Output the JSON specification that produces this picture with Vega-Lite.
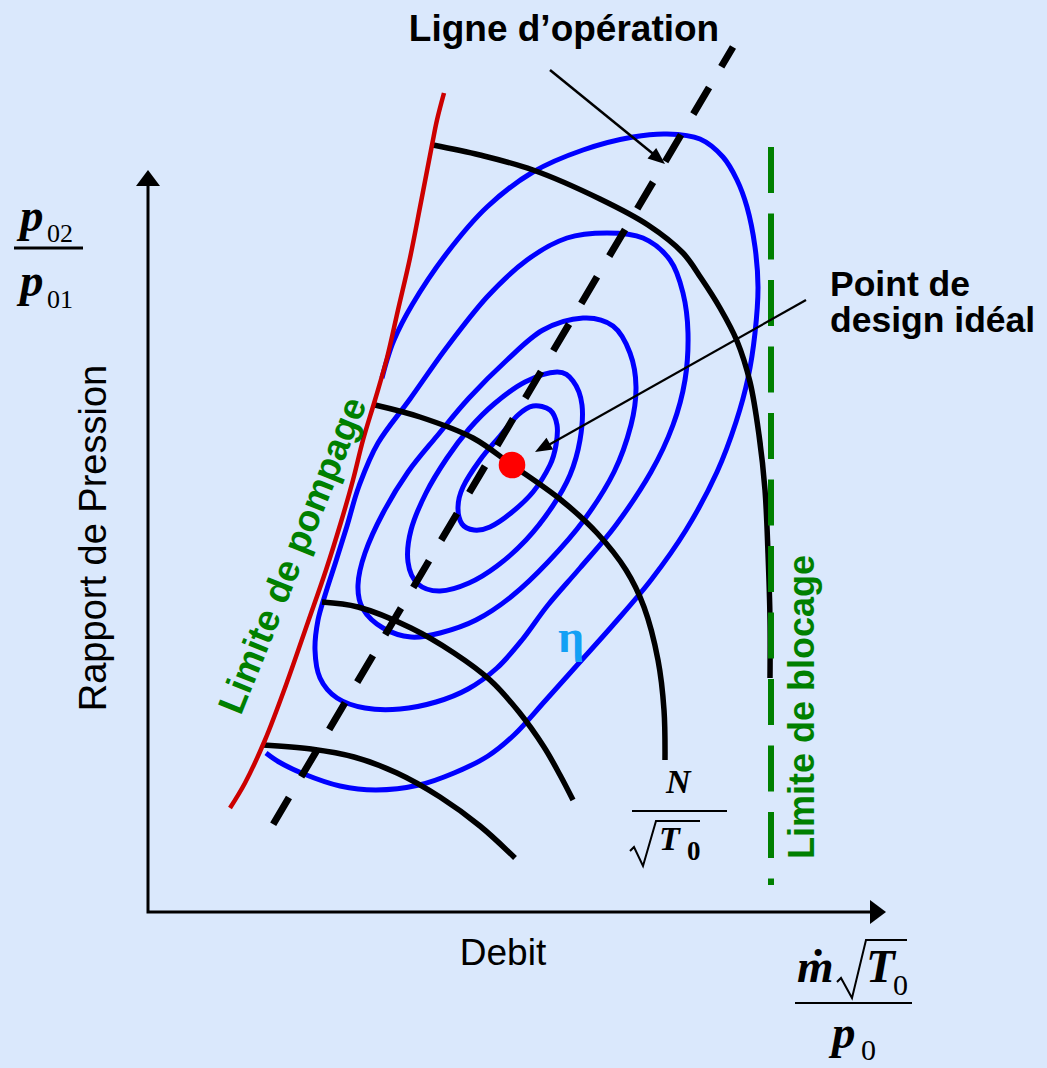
{
  "$schema": "https://vega.github.io/schema/vega-lite/v6.json",
  "width": 1047,
  "height": 1068,
  "autosize": {"type": "fit", "contains": "padding"},
  "padding": 0,
  "background": "#DAE8FC",
  "config": {"view": {"stroke": null}},
  "datasets": {
    "courbes": [
      {"c":"eta1","i":1,"x":533,"y":406},{"c":"eta1","i":2,"x":550,"y":410},{"c":"eta1","i":3,"x":557,"y":425},{"c":"eta1","i":4,"x":556,"y":445},{"c":"eta1","i":5,"x":550,"y":465},{"c":"eta1","i":6,"x":533,"y":492},{"c":"eta1","i":7,"x":511,"y":513},{"c":"eta1","i":8,"x":490,"y":527},{"c":"eta1","i":9,"x":474,"y":530},{"c":"eta1","i":10,"x":462,"y":524},{"c":"eta1","i":11,"x":458,"y":507},{"c":"eta1","i":12,"x":463,"y":487},{"c":"eta1","i":13,"x":480,"y":460},{"c":"eta1","i":14,"x":500,"y":436},{"c":"eta1","i":15,"x":518,"y":415},

      {"c":"eta2","i":1,"x":557,"y":372},{"c":"eta2","i":2,"x":573,"y":381},{"c":"eta2","i":3,"x":582,"y":405},{"c":"eta2","i":4,"x":580,"y":440},{"c":"eta2","i":5,"x":570,"y":475},{"c":"eta2","i":6,"x":552,"y":507},{"c":"eta2","i":7,"x":526,"y":540},{"c":"eta2","i":8,"x":497,"y":566},{"c":"eta2","i":9,"x":469,"y":583},{"c":"eta2","i":10,"x":440,"y":591},{"c":"eta2","i":11,"x":418,"y":584},{"c":"eta2","i":12,"x":408,"y":562},{"c":"eta2","i":13,"x":411,"y":530},{"c":"eta2","i":14,"x":426,"y":493},{"c":"eta2","i":15,"x":447,"y":458},{"c":"eta2","i":16,"x":469,"y":429},{"c":"eta2","i":17,"x":494,"y":404},{"c":"eta2","i":18,"x":525,"y":382},

      {"c":"eta3","i":1,"x":583,"y":318},{"c":"eta3","i":2,"x":613,"y":326},{"c":"eta3","i":3,"x":630,"y":353},{"c":"eta3","i":4,"x":636,"y":387},{"c":"eta3","i":5,"x":631,"y":425},{"c":"eta3","i":6,"x":614,"y":472},{"c":"eta3","i":7,"x":584,"y":520},{"c":"eta3","i":8,"x":548,"y":562},{"c":"eta3","i":9,"x":512,"y":596},{"c":"eta3","i":10,"x":476,"y":620},{"c":"eta3","i":11,"x":440,"y":633},{"c":"eta3","i":12,"x":411,"y":637},{"c":"eta3","i":13,"x":383,"y":628},{"c":"eta3","i":14,"x":363,"y":609},{"c":"eta3","i":15,"x":358,"y":585},{"c":"eta3","i":16,"x":365,"y":553},{"c":"eta3","i":17,"x":383,"y":513},{"c":"eta3","i":18,"x":408,"y":472},{"c":"eta3","i":19,"x":437,"y":436},{"c":"eta3","i":20,"x":469,"y":398},{"c":"eta3","i":21,"x":507,"y":360},{"c":"eta3","i":22,"x":543,"y":330},

      {"c":"eta4","i":1,"x":607,"y":233},{"c":"eta4","i":2,"x":643,"y":238},{"c":"eta4","i":3,"x":670,"y":260},{"c":"eta4","i":4,"x":683,"y":293},{"c":"eta4","i":5,"x":688,"y":333},{"c":"eta4","i":6,"x":685,"y":380},{"c":"eta4","i":7,"x":673,"y":425},{"c":"eta4","i":8,"x":651,"y":472},{"c":"eta4","i":9,"x":616,"y":525},{"c":"eta4","i":10,"x":580,"y":568},{"c":"eta4","i":11,"x":548,"y":605},{"c":"eta4","i":12,"x":522,"y":640},{"c":"eta4","i":13,"x":497,"y":668},{"c":"eta4","i":14,"x":468,"y":689},{"c":"eta4","i":15,"x":436,"y":702},{"c":"eta4","i":16,"x":400,"y":709},{"c":"eta4","i":17,"x":365,"y":708},{"c":"eta4","i":18,"x":337,"y":698},{"c":"eta4","i":19,"x":320,"y":678},{"c":"eta4","i":20,"x":315,"y":650},{"c":"eta4","i":21,"x":318,"y":620},{"c":"eta4","i":22,"x":326,"y":592},{"c":"eta4","i":23,"x":336,"y":561},{"c":"eta4","i":24,"x":347,"y":526},{"c":"eta4","i":25,"x":359,"y":486},{"c":"eta4","i":26,"x":378,"y":443},{"c":"eta4","i":27,"x":410,"y":399},{"c":"eta4","i":28,"x":447,"y":347},{"c":"eta4","i":29,"x":487,"y":297},{"c":"eta4","i":30,"x":527,"y":260},{"c":"eta4","i":31,"x":567,"y":238},

      {"c":"eta5","i":1,"x":266,"y":753},{"c":"eta5","i":2,"x":279,"y":762},{"c":"eta5","i":3,"x":304,"y":774},{"c":"eta5","i":4,"x":340,"y":786},{"c":"eta5","i":5,"x":376,"y":790},{"c":"eta5","i":6,"x":419,"y":785},{"c":"eta5","i":7,"x":454,"y":773},{"c":"eta5","i":8,"x":488,"y":756},{"c":"eta5","i":9,"x":514,"y":735},{"c":"eta5","i":10,"x":545,"y":701},{"c":"eta5","i":11,"x":579,"y":663},{"c":"eta5","i":12,"x":613,"y":625},{"c":"eta5","i":13,"x":651,"y":580},{"c":"eta5","i":14,"x":686,"y":530},{"c":"eta5","i":15,"x":717,"y":472},{"c":"eta5","i":16,"x":736,"y":422},{"c":"eta5","i":17,"x":748,"y":378},{"c":"eta5","i":18,"x":755,"y":333},{"c":"eta5","i":19,"x":758,"y":287},{"c":"eta5","i":20,"x":755,"y":247},{"c":"eta5","i":21,"x":747,"y":207},{"c":"eta5","i":22,"x":737,"y":180},{"c":"eta5","i":23,"x":723,"y":157},{"c":"eta5","i":24,"x":700,"y":139},{"c":"eta5","i":25,"x":667,"y":134},{"c":"eta5","i":26,"x":633,"y":137},{"c":"eta5","i":27,"x":583,"y":150},{"c":"eta5","i":28,"x":533,"y":172},{"c":"eta5","i":29,"x":487,"y":207},{"c":"eta5","i":30,"x":447,"y":253},{"c":"eta5","i":31,"x":412,"y":305},{"c":"eta5","i":32,"x":394,"y":340},{"c":"eta5","i":33,"x":387,"y":360},{"c":"eta5","i":34,"x":382,"y":378},

      {"c":"N1","i":1,"x":433,"y":145},{"c":"N1","i":2,"x":480,"y":155},{"c":"N1","i":3,"x":533,"y":170},{"c":"N1","i":4,"x":600,"y":199},{"c":"N1","i":5,"x":648,"y":225},{"c":"N1","i":6,"x":683,"y":253},{"c":"N1","i":7,"x":701,"y":278},{"c":"N1","i":8,"x":720,"y":308},{"c":"N1","i":9,"x":737,"y":341},{"c":"N1","i":10,"x":750,"y":382},{"c":"N1","i":11,"x":759,"y":435},{"c":"N1","i":12,"x":765,"y":490},{"c":"N1","i":13,"x":768,"y":553},{"c":"N1","i":14,"x":770,"y":620},{"c":"N1","i":15,"x":770,"y":678},

      {"c":"N2","i":1,"x":375,"y":405},{"c":"N2","i":2,"x":420,"y":417},{"c":"N2","i":3,"x":473,"y":438},{"c":"N2","i":4,"x":512,"y":465},{"c":"N2","i":5,"x":561,"y":500},{"c":"N2","i":6,"x":597,"y":533},{"c":"N2","i":7,"x":626,"y":570},{"c":"N2","i":8,"x":644,"y":607},{"c":"N2","i":9,"x":658,"y":660},{"c":"N2","i":10,"x":664,"y":710},{"c":"N2","i":11,"x":665,"y":760},

      {"c":"N3","i":1,"x":322,"y":602},{"c":"N3","i":2,"x":358,"y":607},{"c":"N3","i":3,"x":411,"y":628},{"c":"N3","i":4,"x":454,"y":653},{"c":"N3","i":5,"x":490,"y":680},{"c":"N3","i":6,"x":519,"y":712},{"c":"N3","i":7,"x":544,"y":747},{"c":"N3","i":8,"x":560,"y":775},{"c":"N3","i":9,"x":573,"y":800},

      {"c":"N4","i":1,"x":263,"y":745},{"c":"N4","i":2,"x":311,"y":749},{"c":"N4","i":3,"x":354,"y":757},{"c":"N4","i":4,"x":397,"y":773},{"c":"N4","i":5,"x":440,"y":797},{"c":"N4","i":6,"x":480,"y":826},{"c":"N4","i":7,"x":515,"y":858},

      {"c":"pompage","i":1,"x":444,"y":93},{"c":"pompage","i":2,"x":437,"y":120},{"c":"pompage","i":3,"x":432,"y":145},{"c":"pompage","i":4,"x":421,"y":202},{"c":"pompage","i":5,"x":410,"y":258},{"c":"pompage","i":6,"x":398,"y":310},{"c":"pompage","i":7,"x":387,"y":358},{"c":"pompage","i":8,"x":375,"y":400},{"c":"pompage","i":9,"x":363,"y":440},{"c":"pompage","i":10,"x":353,"y":480},{"c":"pompage","i":11,"x":341,"y":522},{"c":"pompage","i":12,"x":326,"y":570},{"c":"pompage","i":13,"x":308,"y":622},{"c":"pompage","i":14,"x":286,"y":685},{"c":"pompage","i":15,"x":265,"y":740},{"c":"pompage","i":16,"x":245,"y":783},{"c":"pompage","i":17,"x":230,"y":808},

      {"c":"blocage","i":1,"x":771,"y":147},{"c":"blocage","i":2,"x":771,"y":885},

      {"c":"operation","i":1,"x":733,"y":47},{"c":"operation","i":2,"x":265,"y":838},

      {"c":"axes","i":1,"x":148,"y":186},{"c":"axes","i":2,"x":148,"y":912},{"c":"axes","i":3,"x":870,"y":912},

      {"c":"fleche1","i":1,"x":550,"y":70},{"c":"fleche1","i":2,"x":657,"y":157},
      {"c":"fleche2","i":1,"x":806,"y":300},{"c":"fleche2","i":2,"x":545,"y":447},

      {"c":"rad1","i":1,"x":630,"y":851},{"c":"rad1","i":2,"x":634,"y":847},{"c":"rad1","i":3,"x":643,"y":866},{"c":"rad1","i":4,"x":656,"y":821},{"c":"rad1","i":5,"x":700,"y":821},
      {"c":"rad2","i":1,"x":837,"y":982},{"c":"rad2","i":2,"x":841,"y":978},{"c":"rad2","i":3,"x":852,"y":998},{"c":"rad2","i":4,"x":866,"y":940},{"c":"rad2","i":5,"x":907,"y":940}
    ]
  },
  "encoding": {
    "x": {"field": "x", "type": "quantitative", "scale": {"domain": [0, 1047], "nice": false, "zero": false}, "axis": null},
    "y": {"field": "y", "type": "quantitative", "scale": {"domain": [0, 1068], "nice": false, "zero": false, "reverse": true}, "axis": null}
  },
  "layer": [
    {
      "data": {"name": "courbes"},
      "transform": [{"filter": {"field": "c", "oneOf": ["eta1", "eta2", "eta3", "eta4"]}}],
      "mark": {"type": "line", "interpolate": "cardinal-closed", "stroke": "#0000FF", "strokeWidth": 5},
      "encoding": {"detail": {"field": "c"}, "order": {"field": "i", "type": "quantitative"}}
    },
    {
      "data": {"name": "courbes"},
      "transform": [{"filter": {"field": "c", "equal": "eta5"}}],
      "mark": {"type": "line", "interpolate": "catmull-rom", "stroke": "#0000FF", "strokeWidth": 5},
      "encoding": {"order": {"field": "i", "type": "quantitative"}}
    },
    {
      "data": {"name": "courbes"},
      "transform": [{"filter": {"field": "c", "oneOf": ["N1", "N2", "N3", "N4"]}}],
      "mark": {"type": "line", "interpolate": "catmull-rom", "stroke": "#000000", "strokeWidth": 5.5},
      "encoding": {"detail": {"field": "c"}, "order": {"field": "i", "type": "quantitative"}}
    },
    {
      "data": {"name": "courbes"},
      "transform": [{"filter": {"field": "c", "equal": "pompage"}}],
      "mark": {"type": "line", "interpolate": "catmull-rom", "stroke": "#CC0000", "strokeWidth": 4.5},
      "encoding": {"order": {"field": "i", "type": "quantitative"}}
    },
    {
      "data": {"name": "courbes"},
      "transform": [{"filter": {"field": "c", "equal": "operation"}}],
      "mark": {"type": "line", "stroke": "#000000", "strokeWidth": 7, "strokeDash": [31, 24], "strokeDashOffset": 8},
      "encoding": {"order": {"field": "i", "type": "quantitative"}}
    },
    {
      "data": {"name": "courbes"},
      "transform": [{"filter": {"field": "c", "equal": "blocage"}}],
      "mark": {"type": "line", "stroke": "#008000", "strokeWidth": 6, "strokeDash": [46, 20.5]},
      "encoding": {"order": {"field": "i", "type": "quantitative"}}
    },
    {
      "data": {"name": "courbes"},
      "transform": [{"filter": {"field": "c", "equal": "axes"}}],
      "mark": {"type": "line", "stroke": "#000000", "strokeWidth": 3, "strokeJoin": "miter"},
      "encoding": {"order": {"field": "i", "type": "quantitative"}}
    },
    {
      "data": {"name": "courbes"},
      "transform": [{"filter": {"field": "c", "equal": "fleche1"}}],
      "mark": {"type": "line", "stroke": "#000000", "strokeWidth": 2.5},
      "encoding": {"order": {"field": "i", "type": "quantitative"}}
    },
    {
      "data": {"name": "courbes"},
      "transform": [{"filter": {"field": "c", "equal": "fleche2"}}],
      "mark": {"type": "line", "stroke": "#000000", "strokeWidth": 2.2},
      "encoding": {"order": {"field": "i", "type": "quantitative"}}
    },
    {
      "data": {"name": "courbes"},
      "transform": [{"filter": {"field": "c", "oneOf": ["rad1", "rad2"]}}],
      "mark": {"type": "line", "stroke": "#000000", "strokeWidth": 2, "strokeJoin": "miter"},
      "encoding": {"detail": {"field": "c"}, "order": {"field": "i", "type": "quantitative"}}
    },
    {
      "data": {"values": [{"x": 148, "y": 170}]},
      "mark": {"type": "point", "shape": "M0,0L0.75,1L-0.75,1Z", "size": 1024, "angle": 0, "filled": true, "color": "#000000", "opacity": 1, "strokeWidth": 0}
    },
    {
      "data": {"values": [{"x": 886, "y": 912}]},
      "mark": {"type": "point", "shape": "M0,0L0.75,1L-0.75,1Z", "size": 1024, "angle": 90, "filled": true, "color": "#000000", "opacity": 1, "strokeWidth": 0}
    },
    {
      "data": {"values": [{"x": 665, "y": 164}]},
      "mark": {"type": "point", "shape": "M0,0L0.4,1L-0.4,1Z", "size": 1156, "angle": 129.4, "filled": true, "color": "#000000", "opacity": 1, "strokeWidth": 0}
    },
    {
      "data": {"values": [{"x": 535, "y": 452}]},
      "mark": {"type": "point", "shape": "M0,0L0.4,1L-0.4,1Z", "size": 1156, "angle": 240.6, "filled": true, "color": "#000000", "opacity": 1, "strokeWidth": 0}
    },
    {
      "data": {"values": [{"x": 512, "y": 465}]},
      "mark": {"type": "point", "shape": "circle", "size": 707, "filled": true, "color": "#FF0000", "opacity": 1, "strokeWidth": 0}
    },
    {
      "data": {"values": [{"x": 14, "x2": 83, "y": 248}]},
      "mark": {"type": "rule", "stroke": "#000000", "strokeWidth": 3},
      "encoding": {"x2": {"field": "x2"}}
    },
    {
      "data": {"values": [{"x": 632, "x2": 727, "y": 811}, {"x": 795, "x2": 912, "y": 1003}]},
      "mark": {"type": "rule", "stroke": "#000000", "strokeWidth": 2.2},
      "encoding": {"x2": {"field": "x2"}}
    },
    {
      "data": {"values": [{"t": "Ligne d’opération", "x": 564, "y": 41}]},
      "mark": {"type": "text", "font": "Liberation Sans", "fontWeight": "bold", "fontSize": 37, "align": "center", "baseline": "alphabetic", "color": "#000000"},
      "encoding": {"text": {"field": "t"}}
    },
    {
      "data": {"values": [{"t": ["Point de", "design idéal"], "x": 830, "y": 296}]},
      "mark": {"type": "text", "font": "Liberation Sans", "fontWeight": "bold", "fontSize": 35.5, "lineHeight": 36, "align": "left", "baseline": "alphabetic", "color": "#000000"},
      "encoding": {"text": {"field": "t"}}
    },
    {
      "data": {"values": [{"t": "Debit", "x": 503, "y": 965}]},
      "mark": {"type": "text", "font": "Liberation Sans", "fontSize": 37, "align": "center", "baseline": "alphabetic", "color": "#000000"},
      "encoding": {"text": {"field": "t"}}
    },
    {
      "data": {"values": [{"t": "Rapport de Pression", "x": 106, "y": 538}]},
      "mark": {"type": "text", "font": "Liberation Sans", "fontSize": 38, "angle": 270, "align": "center", "baseline": "alphabetic", "color": "#000000"},
      "encoding": {"text": {"field": "t"}}
    },
    {
      "data": {"values": [{"t": "Limite de pompage", "x": 304, "y": 560}]},
      "mark": {"type": "text", "font": "Liberation Sans", "fontWeight": "bold", "fontSize": 37, "angle": 292, "align": "center", "baseline": "alphabetic", "color": "#008000"},
      "encoding": {"text": {"field": "t"}}
    },
    {
      "data": {"values": [{"t": "Limite de blocage", "x": 814, "y": 707}]},
      "mark": {"type": "text", "font": "Liberation Sans", "fontWeight": "bold", "fontSize": 36, "angle": 270, "align": "center", "baseline": "alphabetic", "color": "#008000"},
      "encoding": {"text": {"field": "t"}}
    },
    {
      "data": {"values": [{"t": "η", "x": 571, "y": 652}]},
      "mark": {"type": "text", "font": "Liberation Serif", "fontWeight": "bold", "fontSize": 46, "align": "center", "baseline": "alphabetic", "color": "#12A0F5"},
      "encoding": {"text": {"field": "t"}}
    },
    {
      "data": {"values": [{"t": "p", "x": 20, "y": 231}, {"t": "p", "x": 20, "y": 296}, {"t": "ṁ", "x": 797, "y": 982}, {"t": "T", "x": 866, "y": 982}, {"t": "p", "x": 832, "y": 1048}]},
      "mark": {"type": "text", "font": "Liberation Serif", "fontWeight": "bold", "fontStyle": "italic", "fontSize": 47, "align": "left", "baseline": "alphabetic", "color": "#000000"},
      "encoding": {"text": {"field": "t"}}
    },
    {
      "data": {"values": [{"t": "N", "x": 666, "y": 793}, {"t": "T", "x": 659, "y": 850}]},
      "mark": {"type": "text", "font": "Liberation Serif", "fontWeight": "bold", "fontStyle": "italic", "fontSize": 34, "align": "left", "baseline": "alphabetic", "color": "#000000"},
      "encoding": {"text": {"field": "t"}}
    },
    {
      "data": {"values": [{"t": "02", "x": 47, "y": 242}, {"t": "01", "x": 47, "y": 308}]},
      "mark": {"type": "text", "font": "Liberation Serif", "fontSize": 26, "align": "left", "baseline": "alphabetic", "color": "#000000"},
      "encoding": {"text": {"field": "t"}}
    },
    {
      "data": {"values": [{"t": "0", "x": 893, "y": 995}, {"t": "0", "x": 861, "y": 1060}]},
      "mark": {"type": "text", "font": "Liberation Serif", "fontSize": 30, "align": "left", "baseline": "alphabetic", "color": "#000000"},
      "encoding": {"text": {"field": "t"}}
    },
    {
      "data": {"values": [{"t": "0", "x": 687, "y": 860}]},
      "mark": {"type": "text", "font": "Liberation Serif", "fontWeight": "bold", "fontSize": 27, "align": "left", "baseline": "alphabetic", "color": "#000000"},
      "encoding": {"text": {"field": "t"}}
    }
  ]
}
